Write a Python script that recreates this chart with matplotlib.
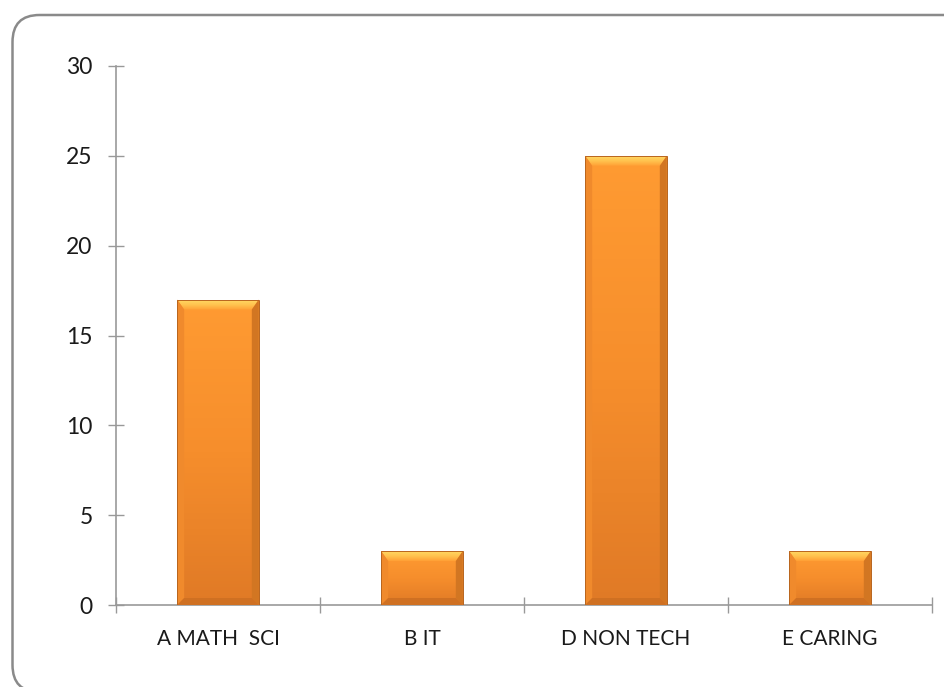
import numpy as np
import matplotlib
matplotlib.use("Agg")
import matplotlib.pyplot as plt
from matplotlib.patches import FancyBboxPatch, Polygon, Rectangle
from matplotlib.colors import LinearSegmentedColormap

# chart data
categories = ["A MATH  SCI", "B IT", "D NON TECH", "E CARING"]
counts = [17, 3, 25, 3]
yticks = [0, 5, 10, 15, 20, 25, 30]

plt.rcParams['font.family'] = ['Lato', 'DejaVu Sans']

fig = plt.figure(figsize=(9.45, 6.87), dpi=100)
ax = fig.add_axes([116 / 945, 1 - 605 / 687, 816 / 945, 539 / 687])

# rounded frame around the whole chart
frame = FancyBboxPatch((0.125, -0.05), 9.6, 6.72 + 0.05,
                       boxstyle="round,pad=0,rounding_size=0.27",
                       transform=fig.dpi_scale_trans, fill=False,
                       edgecolor="#8a8a8a", linewidth=1.8, zorder=0)
fig.patches.append(frame)

x = np.arange(len(categories))
bars = ax.bar(x, counts, width=0.4, color="none", edgecolor="none", zorder=3)

ax.set_xlim(-0.5, len(categories) - 0.5)
ax.set_ylim(0, 30)
ax.set_yticks(yticks)
ax.set_xticks(x)
ax.set_xticklabels(categories)
ax.set_xticks(np.arange(len(categories) + 1) - 0.5, minor=True)

for s in ["top", "right"]:
    ax.spines[s].set_visible(False)
for s in ["left", "bottom"]:
    ax.spines[s].set_color("#999999")
    ax.spines[s].set_linewidth(1.2)

ax.tick_params(axis="y", direction="inout", length=11.5, width=1.0, color="#999999",
               labelsize=16.5, pad=11, labelcolor="#1a1a1a")
ax.tick_params(axis="x", which="major", length=0, labelsize=15, pad=17, labelcolor="#1a1a1a")
ax.tick_params(axis="x", which="minor", direction="inout", length=12, width=1.0, color="#999999")

# bevelled orange fill for each bar
grad = LinearSegmentedColormap.from_list("o", ["#e07a26", "#f68e2c", "#ff9b32"])
top_grad = LinearSegmentedColormap.from_list("t", ["#ffa035", "#ffc24e", "#ffd862"])
fig.canvas.draw()
inv = ax.transData.inverted()
p0 = inv.transform((0, 0))
p1 = inv.transform((7, 10))
p2 = inv.transform((0, 7))
bx, by = p1[0] - p0[0], p1[1] - p0[1]
bby = p2[1] - p0[1]
for b in bars:
    x0, y0 = b.get_x(), b.get_y()
    w, h = b.get_width(), b.get_height()
    x1, y1 = x0 + w, y0 + h
    # soft shadow
    for k, a in enumerate([0.05, 0.08, 0.11]):
        off = 0.22 - k * 0.06
        ax.add_patch(Rectangle((x0 + 0.004, y0 - off), w, h, facecolor="#000000",
                               alpha=a, edgecolor="none", zorder=2))
    img = ax.imshow(np.linspace(0, 1, 100).reshape(-1, 1), cmap=grad,
                    extent=(x0, x1, y0, y1), origin="lower", aspect="auto", zorder=3)
    img.set_clip_path(b)
    tb = min(by, h / 2)
    bb = min(bby, h / 2)
    tp = Polygon([(x0, y1), (x1, y1), (x1 - bx, y1 - tb), (x0 + bx, y1 - tb)],
                 closed=True, facecolor="none", edgecolor="none", zorder=4)
    ax.add_patch(tp)
    timg = ax.imshow(np.linspace(0, 1, 50).reshape(-1, 1), cmap=top_grad,
                     extent=(x0, x1, y1 - tb, y1), origin="lower", aspect="auto", zorder=4)
    timg.set_clip_path(tp)
    ax.add_patch(Polygon([(x0, y0), (x0 + bx, y0 + bb), (x0 + bx, y1 - tb), (x0, y1)],
                         closed=True, facecolor="#f08a2c", edgecolor="none", zorder=4))
    ax.add_patch(Polygon([(x1, y0), (x1 - bx, y0 + bb), (x1 - bx, y1 - tb), (x1, y1)],
                         closed=True, facecolor="#d27622", edgecolor="none", zorder=4))
    ax.add_patch(Polygon([(x0, y0), (x1, y0), (x1 - bx, y0 + bb), (x0 + bx, y0 + bb)],
                         closed=True, facecolor="#cf7022", edgecolor="none", zorder=4))
    ax.add_patch(Rectangle((x0, y0), w, h, facecolor="none", edgecolor="#b9651e",
                           linewidth=0.7, zorder=5))

fig.savefig("out.png", dpi=100)
